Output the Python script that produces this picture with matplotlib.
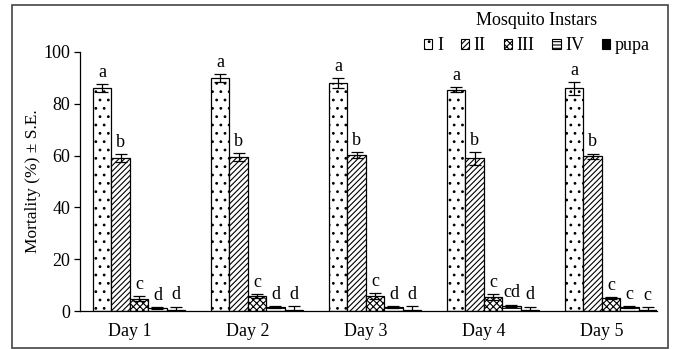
import numpy as np
import matplotlib
matplotlib.use("Agg")
import matplotlib.pyplot as plt
from matplotlib.patches import Rectangle, Patch

plt.rcParams["font.family"] = ["Liberation Serif", "DejaVu Serif"]
plt.rcParams["hatch.linewidth"] = 0.8

days = ["Day 1", "Day 2", "Day 3", "Day 4", "Day 5"]
instars = ["I", "II", "III", "IV", "pupa"]

# mortality (%) per instar, one value per day
mort_I = [86.0, 90.0, 88.0, 85.5, 86.0]
mort_II = [59.0, 59.5, 60.2, 59.0, 59.8]
mort_III = [4.8, 5.8, 5.8, 5.5, 5.0]
mort_IV = [1.2, 1.5, 1.5, 2.0, 1.5]
mort_pupa = [0.5, 0.5, 0.3, 0.5, 0.3]

se_I = [1.5, 1.5, 2.0, 1.0, 2.5]
se_II = [1.5, 1.5, 1.2, 2.5, 1.0]
se_III = [1.0, 0.8, 1.0, 1.2, 0.5]
se_IV = [0.3, 0.4, 0.4, 0.5, 0.4]
se_pupa = [1.2, 1.5, 1.5, 1.2, 1.3]

letters_I = ["a", "a", "a", "a", "a"]
letters_II = ["b", "b", "b", "b", "b"]
letters_III = ["c", "c", "c", "c", "c"]
letters_IV = ["d", "d", "d", "cd", "c"]
letters_pupa = ["d", "d", "d", "d", "c"]

series = [
    (mort_I, se_I, letters_I, "white", ".."),
    (mort_II, se_II, letters_II, "white", "//////"),
    (mort_III, se_III, letters_III, "white", "xxxxx"),
    (mort_IV, se_IV, letters_IV, "white", "-----"),
    (mort_pupa, se_pupa, letters_pupa, "black", None),
]

FS = 13

fig = plt.figure(figsize=(6.74, 3.49), dpi=100)
ax = fig.add_axes([80 / 674, 1 - 311 / 349, 577 / 674, 259 / 349])

x = np.arange(len(days))
w = 0.156
offsets = (np.arange(5) - 2) * w

for (vals, errs, lets, fc, hatch), off in zip(series, offsets):
    ax.bar(x + off, vals, width=w, color=fc, edgecolor="black",
           linewidth=0.9, hatch=hatch, zorder=2)
    ax.errorbar(x + off, vals, yerr=errs, fmt="none", ecolor="black",
                elinewidth=0.9, capsize=4, capthick=0.9, zorder=3)
    for xi, v, e, t in zip(x + off, vals, errs, lets):
        ax.text(xi, v + e + 1.2, t, ha="center", va="bottom", fontsize=FS)

ax.set_xlim(-0.5, 4.39)
ax.set_ylim(0, 100)
ax.set_yticks([0, 20, 40, 60, 80, 100])
# category labels sit a little left of the group centres
ax.set_xticks(x - 0.08)
ax.set_xticklabels(days, fontsize=FS)
ax.tick_params(axis="x", length=0, pad=9)
ax.tick_params(axis="y", length=4, width=0.9, labelsize=FS, pad=3)
ax.set_ylabel("Mortality (%) ± S.E.", fontsize=12.5, labelpad=2)

for s in ["top", "right"]:
    ax.spines[s].set_visible(False)
for s in ["left", "bottom"]:
    ax.spines[s].set_linewidth(0.9)

handles = [Patch(facecolor=fc, edgecolor="black", hatch=h, linewidth=0.8)
           for (_, _, _, fc, h) in series]
fig.legend(handles, instars, title="Mosquito Instars", ncol=5, frameon=False,
           loc="upper center", bbox_to_anchor=(537 / 674, 1 - 12 / 349),
           fontsize=FS, title_fontsize=FS, handlelength=0.45,
           handleheight=0.45, handletextpad=0.25, columnspacing=1.0,
           borderaxespad=0, borderpad=0, labelspacing=0.45)

fig.patches.append(Rectangle((12 / 674, 1 / 349), 656 / 674, 343 / 349,
                             transform=fig.transFigure, fill=False,
                             edgecolor="#444444", linewidth=1.2))

fig.savefig("out.png", dpi=100)
